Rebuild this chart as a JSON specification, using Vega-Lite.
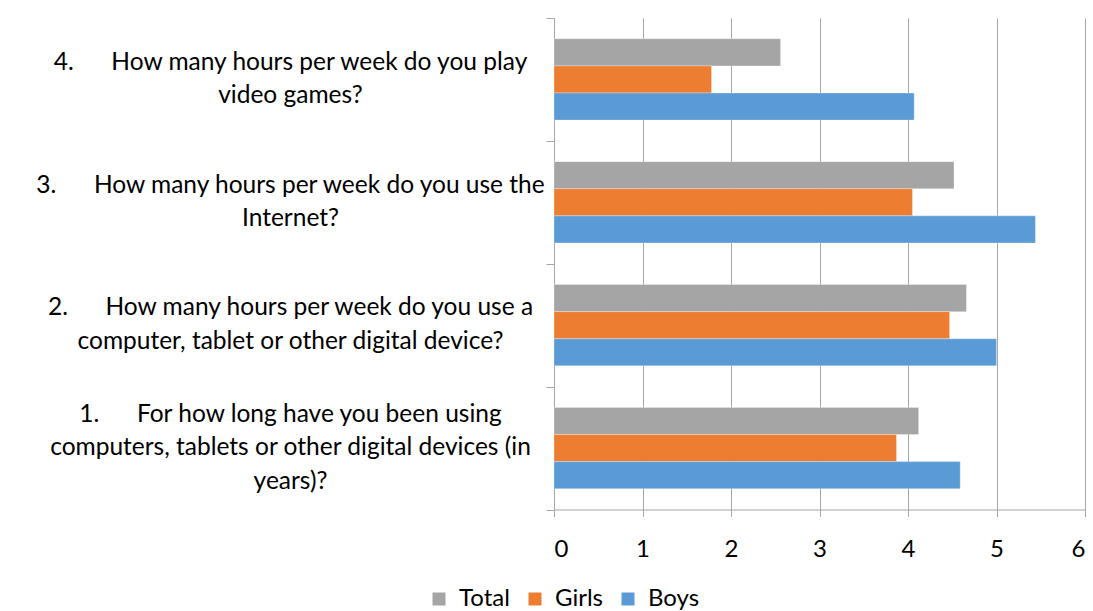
{
  "$schema": "https://vega.github.io/schema/vega-lite/v6.json",
  "width": 531,
  "height": 491.5,
  "autosize": {"type": "none"},
  "padding": {"left": 554, "top": 18, "right": 8, "bottom": 101.5},
  "background": "white",
  "config": {
    "view": {"stroke": null},
    "font": "Lato",
    "axis": {"labelFont": "Lato", "labelColor": "#000000"},
    "legend": {"labelFont": "Lato"}
  },
  "data": {
    "values": [
      {"qnum": 4, "question": "4.\u00a0\u00a0\u00a0\u00a0\u00a0\u00a0How many hours per week do you play|video games?", "series": "Total", "value": 2.56},
      {"qnum": 4, "question": "4.\u00a0\u00a0\u00a0\u00a0\u00a0\u00a0How many hours per week do you play|video games?", "series": "Girls", "value": 1.78},
      {"qnum": 4, "question": "4.\u00a0\u00a0\u00a0\u00a0\u00a0\u00a0How many hours per week do you play|video games?", "series": "Boys", "value": 4.07},
      {"qnum": 3, "question": "3.\u00a0\u00a0\u00a0\u00a0\u00a0\u00a0How many hours per week do you use the|Internet?", "series": "Total", "value": 4.52},
      {"qnum": 3, "question": "3.\u00a0\u00a0\u00a0\u00a0\u00a0\u00a0How many hours per week do you use the|Internet?", "series": "Girls", "value": 4.05},
      {"qnum": 3, "question": "3.\u00a0\u00a0\u00a0\u00a0\u00a0\u00a0How many hours per week do you use the|Internet?", "series": "Boys", "value": 5.44},
      {"qnum": 2, "question": "2.\u00a0\u00a0\u00a0\u00a0\u00a0\u00a0How many hours per week do you use a|computer, tablet or other digital device?", "series": "Total", "value": 4.66},
      {"qnum": 2, "question": "2.\u00a0\u00a0\u00a0\u00a0\u00a0\u00a0How many hours per week do you use a|computer, tablet or other digital device?", "series": "Girls", "value": 4.47},
      {"qnum": 2, "question": "2.\u00a0\u00a0\u00a0\u00a0\u00a0\u00a0How many hours per week do you use a|computer, tablet or other digital device?", "series": "Boys", "value": 5.0},
      {"qnum": 1, "question": "1.\u00a0\u00a0\u00a0\u00a0\u00a0\u00a0For how long have you been using|computers, tablets or other digital devices (in|years)?", "series": "Total", "value": 4.12},
      {"qnum": 1, "question": "1.\u00a0\u00a0\u00a0\u00a0\u00a0\u00a0For how long have you been using|computers, tablets or other digital devices (in|years)?", "series": "Girls", "value": 3.87},
      {"qnum": 1, "question": "1.\u00a0\u00a0\u00a0\u00a0\u00a0\u00a0For how long have you been using|computers, tablets or other digital devices (in|years)?", "series": "Boys", "value": 4.59}
    ]
  },
  "mark": {"type": "bar", "stroke": "white", "strokeWidth": 0.5, "strokeOpacity": 0.6},
  "encoding": {
    "y": {
      "field": "question",
      "type": "nominal",
      "sort": {"field": "qnum", "order": "descending"},
      "scale": {"paddingInner": 0, "paddingOuter": 0},
      "axis": {
        "title": null,
        "labelExpr": "length(split(datum.label, '|')) == 2 ? split('\u200b|' + join(split(datum.label, '|'), '|\u200b|'), '|') : split(join(split(datum.label, '|'), '|\u200b|'), '|')",
        "labelAlign": "center",
        "labelBaseline": "middle",
        "labelFontSize": 24.5,
        "labelLineHeight": 16.75,
        "labelLimit": 600,
        "labelPadding": 256,
        "labelOffset": -34,
        "tickBand": "extent",
        "tickSize": 8,
        "tickColor": "#a6a6a6",
        "domainColor": "#a6a6a6",
        "grid": false
      }
    },
    "yOffset": {
      "field": "series",
      "type": "nominal",
      "sort": ["Total", "Girls", "Boys"],
      "scale": {"paddingInner": 0, "paddingOuter": 0.765}
    },
    "x": {
      "field": "value",
      "type": "quantitative",
      "scale": {"domain": [0, 6], "nice": false},
      "axis": {
        "title": null,
        "values": [0, 1, 2, 3, 4, 5, 6],
        "format": "d",
        "labelFontSize": 24,
        "labelPadding": 21,
        "tickSize": 7,
        "tickColor": "#a6a6a6",
        "domainColor": "#a6a6a6",
        "gridColor": "#a6a6a6",
        "grid": true
      }
    },
    "color": {
      "field": "series",
      "type": "nominal",
      "scale": {"domain": ["Total", "Girls", "Boys"], "range": ["#a5a5a5", "#ed7d31", "#5b9bd5"]},
      "legend": {
        "title": null,
        "orient": "none",
        "direction": "horizontal",
        "legendX": -127,
        "legendY": 569,
        "symbolType": "square",
        "symbolSize": 169,
        "symbolStrokeWidth": 0,
        "symbolOpacity": 1,
        "labelFontSize": 24,
        "labelOffset": 8,
        "columnPadding": 13
      }
    }
  }
}
